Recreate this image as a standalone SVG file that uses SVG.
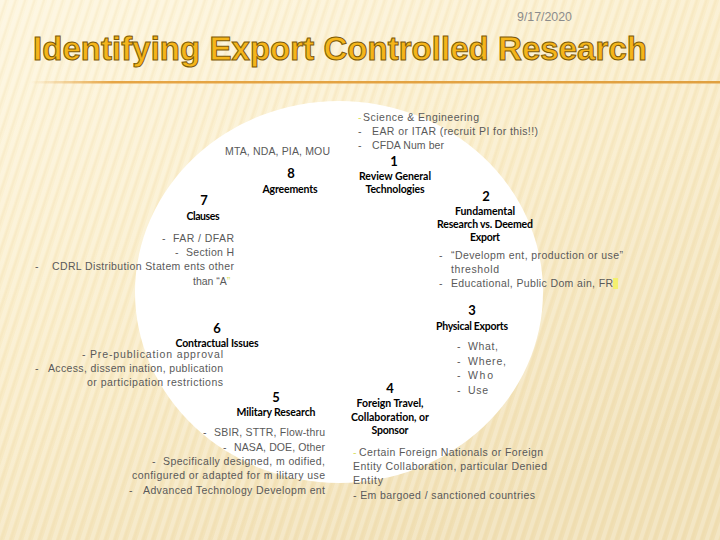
<svg xmlns="http://www.w3.org/2000/svg" width="720" height="540" viewBox="0 0 720 540">
<defs>
<linearGradient id="bg" x1="0" y1="0" x2="0.6" y2="1">
<stop offset="0" stop-color="#fdf5dc"/>
<stop offset="0.5" stop-color="#f9ecc8"/>
<stop offset="1" stop-color="#f0dfb4"/>
</linearGradient>
<pattern id="stripes" width="9" height="9" patternUnits="userSpaceOnUse" patternTransform="rotate(18)">
<rect x="0" y="0" width="4" height="9" fill="#ffffff" opacity="0.22"/>
<rect x="5" y="0" width="2" height="9" fill="#e6cf98" opacity="0.15"/>
</pattern>
<linearGradient id="rule" x1="0" y1="0" x2="1" y2="0">
<stop offset="0" stop-color="#e6a545" stop-opacity="0"/>
<stop offset="0.12" stop-color="#e6a545"/>
<stop offset="1" stop-color="#e0a040"/>
</linearGradient>
<style>
.h{font-family:Lato,"Liberation Sans",sans-serif;font-weight:bold;font-size:10.5px;fill:#000;text-anchor:middle}
.n{font-family:Lato,"Liberation Sans",sans-serif;font-weight:bold;font-size:13px;fill:#000;text-anchor:middle}
.b{font-family:"Liberation Sans",Arial,sans-serif;font-size:10.5px;fill:#595959}
.y{fill:#d8e060}
</style>
</defs>
<rect x="0" y="0" width="720" height="540" fill="url(#bg)"/>
<rect x="0" y="0" width="720" height="540" fill="url(#stripes)"/>
<text x="517" y="21" font-family="Liberation Sans,Arial,sans-serif" font-size="12" fill="#8c8c8c" textLength="55" lengthAdjust="spacingAndGlyphs">9/17/2020</text>
<text x="33" y="60" font-family="Liberation Sans,Arial,sans-serif" font-weight="bold" font-size="33" fill="#f5b51a" stroke="#7d5a08" stroke-width="1" textLength="614" lengthAdjust="spacingAndGlyphs">Identifying Export Controlled Research</text>
<rect x="30" y="81" width="690" height="2.5" fill="url(#rule)"/>
<ellipse cx="339" cy="292" rx="204" ry="191" fill="#ffffff"/>
<g id="connectors"/>
<g id="node1">
<text class="b" x="358" y="121"><tspan class="y">-</tspan><tspan x="363" textLength="116">Science &amp; Engineering</tspan></text>
<text class="b" x="358" y="135">-</text>
<text class="b" x="372" y="135" textLength="166">EAR or ITAR (recruit PI for this!!)</text>
<text class="b" x="358" y="149">-</text>
<text class="b" x="372" y="149" textLength="72">CFDA Num ber</text>
<text class="n" x="394" y="166">1</text>
<text class="h" x="395" y="180" textLength="72">Review General</text>
<text class="h" x="395" y="193" textLength="59">Technologies</text>
</g>
<g id="node2">
<text class="n" x="486" y="201">2</text>
<text class="h" x="485" y="215" textLength="60">Fundamental</text>
<text class="h" x="485" y="228" textLength="96">Research vs. Deemed</text>
<text class="h" x="485" y="241" textLength="30">Export</text>
<text class="b" x="439" y="259">-</text>
<text class="b" x="451" y="259" textLength="172">“Developm ent, production or use”</text>
<text class="b" x="451" y="273" textLength="48">threshold</text>
<text class="b" x="439" y="287">-</text>
<text class="b" x="451" y="287" textLength="162">Educational, Public Dom ain, FR</text>
<rect x="613" y="278" width="5" height="11" fill="#f4f070"/>
</g>
<g id="node3">
<text class="n" x="472" y="315">3</text>
<text class="h" x="472" y="330" textLength="72">Physical Exports</text>
<text class="b" x="457" y="350">-</text>
<text class="b" x="468" y="350" textLength="30">What,</text>
<text class="b" x="457" y="365">-</text>
<text class="b" x="468" y="365" textLength="38">Where,</text>
<text class="b" x="457" y="379">-</text>
<text class="b" x="468" y="379" textLength="25">Who</text>
<text class="b" x="457" y="394">-</text>
<text class="b" x="468" y="394" textLength="20">Use</text>
</g>
<g id="node4">
<text class="n" x="390" y="393">4</text>
<text class="h" x="390" y="407" textLength="67">Foreign Travel,</text>
<text class="h" x="390" y="421" textLength="78">Collaboration, or</text>
<text class="h" x="390" y="434" textLength="37">Sponsor</text>
<text class="b" x="353" y="456"><tspan class="y">-</tspan><tspan x="359" textLength="184">Certain Foreign Nationals or Foreign</tspan></text>
<text class="b" x="353" y="470" textLength="194">Entity Collaboration, particular Denied</text>
<text class="b" x="353" y="484" textLength="30">Entity</text>
<text class="b" x="353" y="499" textLength="182">- Em bargoed / sanctioned countries</text>
</g>
<g id="node5">
<text class="n" x="276" y="402">5</text>
<text class="h" x="276" y="416" textLength="79">Military Research</text>
<text class="b" x="203" y="436">-</text>
<text class="b" x="214" y="436" textLength="111">SBIR, STTR, Flow-thru</text>
<text class="b" x="223" y="451">-</text>
<text class="b" x="234" y="451" textLength="91">NASA, DOE, Other</text>
<text class="b" x="152" y="465">-</text>
<text class="b" x="163" y="465" textLength="162">Specifically designed, m odified,</text>
<text class="b" x="132" y="479" textLength="193">configured or adapted for m ilitary use</text>
<text class="b" x="129" y="494">-</text>
<text class="b" x="143" y="494" textLength="182">Advanced Technology Developm ent</text>
</g>
<g id="node6">
<text class="n" x="217" y="333">6</text>
<text class="h" x="217" y="347" textLength="83">Contractual Issues</text>
<text class="b" x="82" y="358">-</text>
<text class="b" x="90" y="358" textLength="133">Pre-publication approval</text>
<text class="b" x="35" y="372">-</text>
<text class="b" x="48" y="372" textLength="175">Access, dissem ination, publication</text>
<text class="b" x="87" y="386" textLength="136">or participation restrictions</text>
</g>
<g id="node7">
<text class="n" x="204" y="205">7</text>
<text class="h" x="203" y="220" textLength="33">Clauses</text>
<text class="b" x="162" y="242">-</text>
<text class="b" x="173" y="242" textLength="61">FAR / DFAR</text>
<text class="b" x="175" y="256">-</text>
<text class="b" x="186" y="256" textLength="48">Section H</text>
<text class="b" x="35" y="270">-</text>
<text class="b" x="52" y="270" textLength="182">CDRL Distribution Statem ents other</text>
<text class="b" x="193" y="285">than “A<tspan class="y">”</tspan></text>
</g>
<g id="node8">
<text class="b" x="225" y="155" textLength="105">MTA, NDA, PIA, MOU</text>
<text class="n" x="291" y="178">8</text>
<text class="h" x="290" y="193" textLength="55">Agreements</text>
</g>
</svg>
